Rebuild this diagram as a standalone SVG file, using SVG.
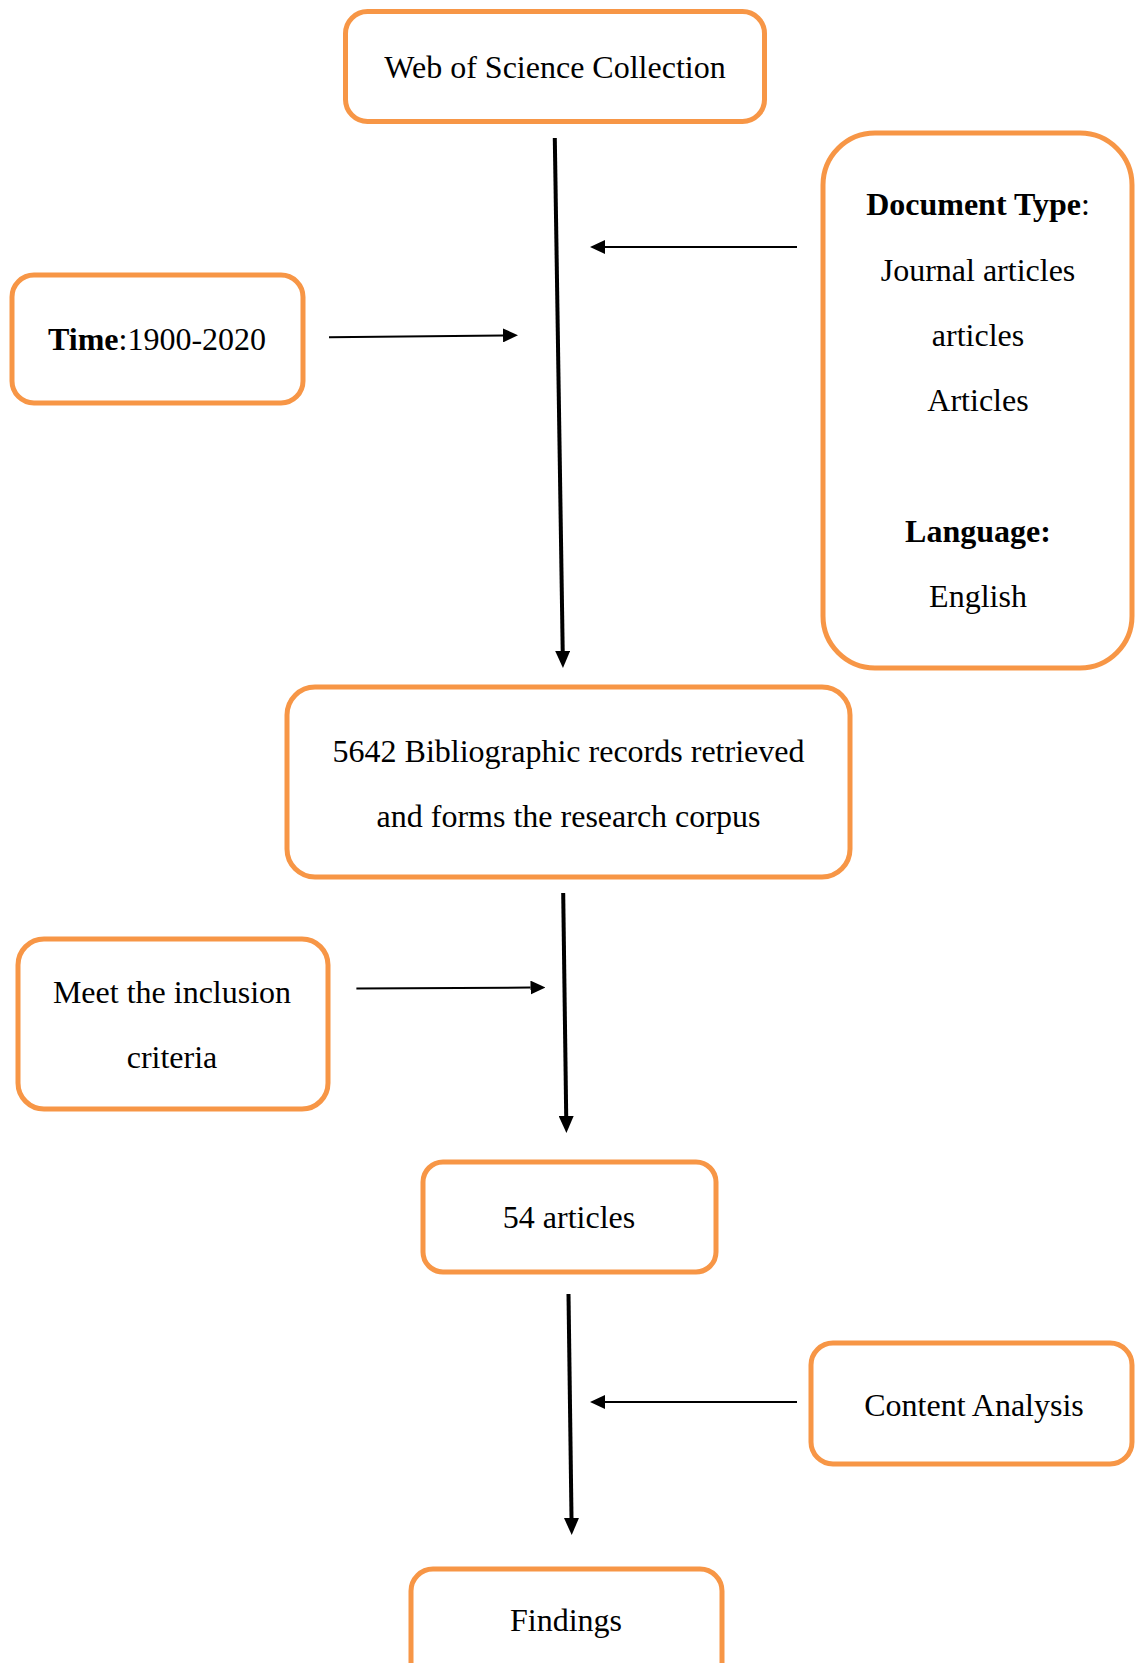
<svg xmlns="http://www.w3.org/2000/svg" width="1135" height="1663" viewBox="0 0 1135 1663">
<style>
.box{fill:#fff;stroke:#F79646;stroke-width:5}
.t{font-family:"Liberation Serif","Times New Roman",serif;font-size:32px;fill:#000;text-anchor:middle}
.b{font-weight:bold}
.main{stroke:#000;stroke-width:4;fill:none;marker-end:url(#ahBig)}
.side{stroke:#000;stroke-width:2;fill:none;marker-end:url(#ahSmall)}
</style>
<defs>
<marker id="ahBig" markerUnits="userSpaceOnUse" viewBox="0 0 17 15" markerWidth="17" markerHeight="15" refX="0" refY="7.5" orient="auto"><path d="M0,0 L17,7.5 L0,15 z" fill="#000"/></marker>
<marker id="ahSmall" markerUnits="userSpaceOnUse" viewBox="0 0 15 14" markerWidth="15" markerHeight="14" refX="0" refY="7" orient="auto"><path d="M0,0 L15,7 L0,14 z" fill="#000"/></marker>
</defs>
<rect width="1135" height="1663" fill="#fff"/>
<g id="connectors">
<line class="main" x1="554.8" y1="138" x2="562.7" y2="651"/>
<line class="main" x1="563.2" y1="893" x2="566.2" y2="1116"/>
<line class="main" x1="568.5" y1="1294" x2="571.5" y2="1518"/>
<line class="side" x1="797" y1="247" x2="605" y2="247"/>
<line class="side" x1="329" y1="337.3" x2="503" y2="335.4"/>
<line class="side" x1="356.4" y1="988.6" x2="530.5" y2="987.6"/>
<line class="side" x1="797" y1="1402" x2="605" y2="1402"/>
</g>
<g id="wos">
<rect class="box" x="345.5" y="11.5" width="419" height="110" rx="22"/>
<text class="t" x="555" y="78">Web of Science Collection</text>
</g>
<g id="doctype">
<rect class="box" x="823" y="133" width="309" height="535" rx="52"/>
<text class="t" x="978" y="215"><tspan class="b">Document Type</tspan>:</text>
<text class="t" x="978" y="281">Journal articles</text>
<text class="t" x="978" y="346">articles</text>
<text class="t" x="978" y="411">Articles</text>
<text class="t b" x="978" y="542">Language:</text>
<text class="t" x="978" y="607">English</text>
</g>
<g id="time">
<rect class="box" x="12" y="275" width="291" height="128" rx="22"/>
<text class="t" x="157" y="350"><tspan class="b">Time</tspan>:1900-2020</text>
</g>
<g id="records">
<rect class="box" x="287" y="687" width="563" height="190" rx="28"/>
<text class="t" x="568.5" y="762">5642 Bibliographic records retrieved</text>
<text class="t" x="568.5" y="827">and forms the research corpus</text>
</g>
<g id="inclusion">
<rect class="box" x="18" y="939" width="310" height="170" rx="26"/>
<text class="t" x="172" y="1003">Meet the inclusion</text>
<text class="t" x="172" y="1068">criteria</text>
</g>
<g id="articles54">
<rect class="box" x="423" y="1162" width="293" height="110" rx="20"/>
<text class="t" x="569" y="1228">54 articles</text>
</g>
<g id="content">
<rect class="box" x="811" y="1343" width="321" height="121" rx="22"/>
<text class="t" x="974" y="1416">Content Analysis</text>
</g>
<g id="findings">
<rect class="box" x="411" y="1569" width="311" height="120" rx="22"/>
<text class="t" x="566" y="1631">Findings</text>
</g>
</svg>
